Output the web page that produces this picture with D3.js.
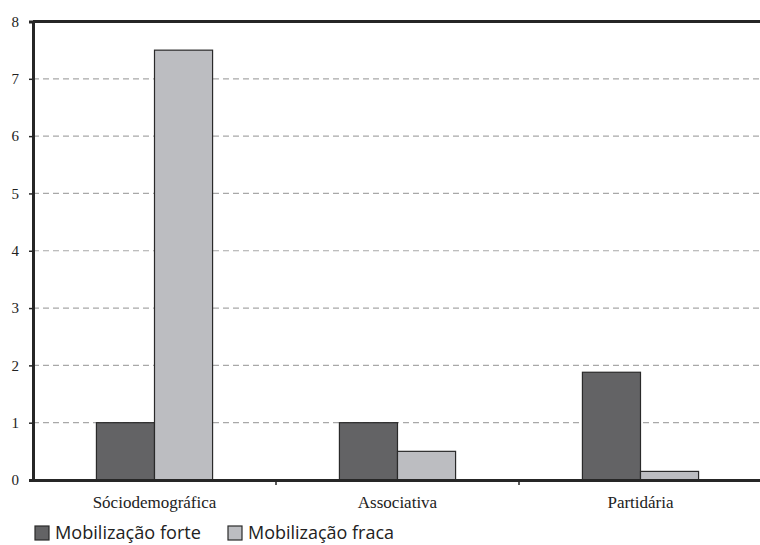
<!DOCTYPE html>
<html><head><meta charset="utf-8">
<script src="https://cdn.jsdelivr.net/npm/d3@7"></script>
<style>body{margin:0;background:#fff}</style>
</head><body>
<script>
const categories = ["Sóciodemográfica", "Associativa", "Partidária"];
const seriesNames = ["Mobilização forte", "Mobilização fraca"];
const forte = [1, 1, 1.88];
const fraca = [7.5, 0.5, 0.15];
const yTicks = [0, 1, 2, 3, 4, 5, 6, 7, 8];
const colors = ["#636365", "#bcbdc1"];

const W = 760, H = 545;
const m = {left: 33, top: 21.5, right: -2, bottom: 65};
const svg = d3.select("body").append("svg").attr("width", W).attr("height", H);
const x = d3.scaleBand().domain(categories).range([m.left, W - m.right]).paddingInner(0.522).paddingOuter(0.261);
const x0 = d3.scaleBand().domain(categories).range([m.left, W - m.right]);
const xs = d3.scaleBand().domain(seriesNames).range([0, x.bandwidth()]);
const y = d3.scaleLinear().domain([0, 8]).range([H - m.bottom, m.top]);

// gridlines
svg.append("g").selectAll("line").data(yTicks.filter(d => d > 0 && d < 8)).join("line")
  .attr("x1", m.left).attr("x2", W).attr("y1", d => y(d)).attr("y2", d => y(d))
  .attr("stroke", "#a8a8a8").attr("stroke-width", 1.2).attr("stroke-dasharray", "6,4");

// bars
const data = categories.map((c, i) => ({c, vals: [forte[i], fraca[i]]}));
const g = svg.append("g");
data.forEach(d => {
  d.vals.forEach((v, j) => {
    g.append("rect")
      .attr("x", x(d.c) + xs(seriesNames[j]))
      .attr("y", y(v))
      .attr("width", xs.bandwidth())
      .attr("height", y(0) - y(v))
      .attr("fill", colors[j]).attr("stroke", "#2a2a2a").attr("stroke-width", 1.2);
  });
});

// top border
svg.append("line").attr("x1", m.left).attr("x2", W).attr("y1", y(8)).attr("y2", y(8))
  .attr("stroke", "#262626").attr("stroke-width", 3);

// y axis
const yAxis = d3.axisLeft(y).tickValues(yTicks).tickSize(4).tickPadding(10).tickFormat(d3.format("d"));
const ya = svg.append("g").attr("transform", `translate(${m.left},0)`).call(yAxis);
ya.select(".domain").attr("stroke", "#262626").attr("stroke-width", 3);
ya.selectAll(".tick line").attr("stroke", "#262626").attr("stroke-width", 1.5);
ya.selectAll("text").attr("font-family", "'Liberation Serif', serif").attr("font-size", 15).attr("fill", "#222")
  .attr("dy", "0.32em");

// x axis
const xAxis = d3.axisBottom(x0).tickSize(0).tickPadding(16);
const xa = svg.append("g").attr("transform", `translate(0,${y(0)})`).call(xAxis);
xa.select(".domain").attr("stroke", "#262626").attr("stroke-width", 3);
xa.selectAll("text").attr("font-family", "'Liberation Serif', serif").attr("font-size", 17).attr("fill", "#222");
// category boundary ticks
svg.append("g").selectAll("line").data(categories.slice(1)).join("line")
  .attr("x1", d => x0(d)).attr("x2", d => x0(d)).attr("y1", y(0)).attr("y2", y(0) + 5)
  .attr("stroke", "#262626").attr("stroke-width", 1.5);

// legend
const leg = svg.append("g");
const legX = [35, 228];
seriesNames.forEach((s, j) => {
  leg.append("rect").attr("x", legX[j]).attr("y", 526).attr("width", 14).attr("height", 14)
    .attr("fill", colors[j]).attr("stroke", "#2a2a2a").attr("stroke-width", 1.2);
  leg.append("text").attr("x", legX[j] + 20).attr("y", 539).text(s)
    .attr("font-family", "'Open Sans', sans-serif").attr("font-size", 18).attr("fill", "#222")
    .attr("textLength", 146).attr("lengthAdjust", "spacingAndGlyphs");
});
</script>
</body></html>
